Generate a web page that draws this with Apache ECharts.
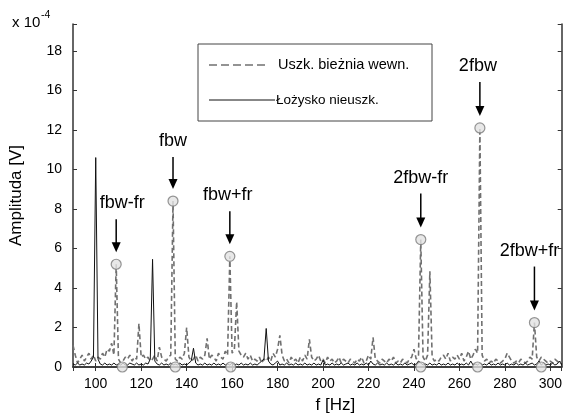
<!DOCTYPE html>
<html>
<head>
<meta charset="utf-8">
<script src="https://cdn.jsdelivr.net/npm/echarts@6/dist/echarts.min.js"></script>
<style>
  html, body { margin: 0; padding: 0; background: #fff; }
  #main { width: 565px; height: 419px; }
</style>
</head>
<body>
<div id="main"></div>
<script>
// spectrum sampled every 1 Hz starting at 90 Hz
const fStart = 90;
const fStep = 1;

// Uszk. bieznia wewn. (damaged inner race), x 10^-4 V
const damaged = [
  1.1, 0.6, 0.2, 0.4, 0.6, 0.3, 0.5, 0.7, 0.4, 0.6,
  0.3, 0.5, 0.4, 0.7, 0.5, 0.9, 0.8, 1.2, 0.6, 5.2,
  0.4, 0.2, 0.3, 0.5, 0.4, 0.6, 0.3, 0.5, 0.4, 2.2,
  0.5, 0.6, 0.4, 0.5, 0.3, 0.4, 0.6, 0.3, 1.0, 0.5,
  0.4, 0.3, 0.5, 0.6, 8.4, 0.4, 0.3, 0.5, 0.4, 0.7,
  2.0, 0.5, 0.3, 0.4, 0.6, 0.3, 0.5, 0.4, 0.6, 1.45,
  0.4, 0.6, 0.5, 0.3, 0.7, 0.5, 0.4, 0.8, 0.6, 5.6,
  0.7, 0.9, 3.3, 0.8, 0.6, 0.5, 0.7, 0.4, 0.6, 0.3,
  0.4, 0.3, 0.5, 0.2, 0.4, 0.3, 0.5, 0.3, 0.7, 0.5,
  0.9, 1.6, 0.6, 0.3, 0.4, 0.2, 0.5, 0.3, 0.4, 0.2,
  0.5, 0.3, 0.6, 0.4, 1.4, 0.5, 0.3, 0.4, 0.6, 0.3,
  0.4, 0.2, 0.5, 0.3, 0.4, 0.2, 0.3, 0.5, 0.2, 0.4,
  0.3, 0.2, 0.4, 0.3, 0.2, 0.4, 0.3, 0.5, 0.2, 0.3,
  0.6, 0.4, 1.5, 0.4, 0.3, 0.2, 0.4, 0.3, 0.2, 0.4,
  0.3, 0.5, 0.2, 0.3, 0.2, 0.4, 0.3, 0.2, 0.4, 0.5,
  0.9, 0.4, 0.6, 6.45, 0.5, 0.3, 0.6, 4.85, 0.5, 0.3,
  0.4, 0.3, 0.5, 0.6, 0.4, 0.7, 0.3, 0.5, 0.4, 0.6,
  0.4, 0.7, 0.3, 0.5, 0.8, 0.4, 0.6, 0.9, 0.7, 12.1,
  0.6, 0.3, 0.4, 0.2, 0.3, 0.2, 0.4, 0.3, 0.2, 0.3,
  0.4, 0.7, 0.5, 0.3, 0.2, 0.3, 0.2, 0.4, 0.3, 0.2,
  0.3, 0.5, 0.4, 2.25, 0.5, 0.3, 0.5, 0.4, 0.3, 0.2,
  0.3, 0.2, 0.4, 0.3, 0.2, 0.3
];

// Lozysko nieuszk. (healthy bearing), x 10^-4 V
const healthy = [
  0.15, 0.1, 0.2, 0.1, 0.15, 0.1, 0.2, 0.15, 0.3, 0.5,
  10.6, 0.4, 0.15, 0.1, 0.2, 0.1, 0.15, 0.1, 0.2, 0.1,
  0.15, 0.1, 0.2, 0.1, 0.1, 0.2, 0.15, 0.1, 0.2, 0.1,
  0.15, 0.1, 0.2, 0.15, 0.4, 5.45, 0.3, 0.15, 0.1, 0.2,
  0.1, 0.15, 0.1, 0.2, 0.1, 0.15, 0.1, 0.2, 0.1, 0.15,
  0.1, 0.2, 0.3, 0.95, 0.2, 0.1, 0.15, 0.1, 0.2, 0.1,
  0.15, 0.1, 0.2, 0.1, 0.15, 0.1, 0.2, 0.1, 0.15, 0.1,
  0.2, 0.1, 0.15, 0.1, 0.2, 0.1, 0.15, 0.1, 0.2, 0.1,
  0.15, 0.1, 0.2, 0.3, 0.4, 1.95, 0.3, 0.15, 0.1, 0.2,
  0.3, 0.1, 0.15, 0.1, 0.2, 0.1, 0.15, 0.1, 0.2, 0.1,
  0.15, 0.1, 0.2, 0.1, 0.15, 0.1, 0.2, 0.1, 0.15, 0.1,
  0.35, 0.1, 0.15, 0.1, 0.2, 0.1, 0.15, 0.1, 0.2, 0.1,
  0.15, 0.2, 0.1, 0.15, 0.1, 0.2, 0.1, 0.15, 0.1, 0.2,
  0.1, 0.3, 0.15, 0.1, 0.2, 0.1, 0.15, 0.1, 0.2, 0.1,
  0.15, 0.1, 0.2, 0.1, 0.15, 0.1, 0.2, 0.1, 0.15, 0.2,
  0.1, 0.15, 0.3, 0.2, 0.1, 0.15, 0.1, 0.2, 0.1, 0.15,
  0.1, 0.2, 0.1, 0.15, 0.1, 0.2, 0.1, 0.15, 0.1, 0.2,
  0.1, 0.15, 0.1, 0.2, 0.1, 0.3, 0.1, 0.15, 0.1, 0.2,
  0.1, 0.15, 0.1, 0.2, 0.1, 0.15, 0.1, 0.2, 0.1, 0.15,
  0.1, 0.2, 0.1, 0.15, 0.1, 0.2, 0.1, 0.15, 0.1, 0.2,
  0.1, 0.15, 0.2, 0.1, 0.15, 0.3, 0.1, 0.2, 0.1, 0.15,
  0.1, 0.2, 0.1, 0.15, 0.3, 0.1
];

// marked harmonics on the damaged spectrum
const annNames = ['fbw-fr', 'fbw', 'fbw+fr', '2fbw-fr', '2fbw', '2fbw+fr'];
const annFreq  = [109, 134, 159, 243, 269, 293];
const annAmp   = [5.2, 8.4, 5.6, 6.45, 12.1, 2.25];
// circles on the zero line (healthy spectrum at same lines)
const baseFreq = [111.7, 135, 159.4, 243, 268, 296];
const baseAmp  = [0, 0, 0, 0, 0, 0];

// y tick texts as printed on the original figure
const yTickText = { 0: '0', 2: '2', 4: '4', 6: '6', 8: '8', 10: '10', 12: '12', 14: '16', 16: '18' };

const FONT = '"Liberation Sans", Arial, sans-serif';

const toPairs = (arr) => arr.map((v, i) => [fStart + i * fStep, v]);

const chart = echarts.init(document.getElementById('main'));

const axisLine = { show: true, lineStyle: { color: '#333', width: 1.5 } };
const axisTick = { show: true, inside: true, length: 4, lineStyle: { color: '#333', width: 1 } };

chart.setOption({
  animation: false,
  backgroundColor: '#fff',
  grid: { left: 72, right: 1, top: 24, bottom: 50 },
  xAxis: [
    {
      type: 'value', min: 90, max: 305, splitNumber: 10,
      axisLine, axisTick, splitLine: { show: false },
      axisLabel: {
        color: '#000', fontFamily: FONT, fontSize: 14, margin: 10,
        formatter: (v) => (v % 20 === 0 ? String(v) : '')
      },
      name: 'f [Hz]', nameLocation: 'middle', nameGap: 30,
      nameTextStyle: { color: '#000', fontFamily: FONT, fontSize: 17, padding: [0, 0, 0, 36] }
    },
    {
      type: 'value', position: 'top', min: 90, max: 305, splitNumber: 10,
      axisLine, axisTick, splitLine: { show: false }, axisLabel: { show: false }
    }
  ],
  yAxis: [
    {
      type: 'value', min: 0, max: 17.36, splitNumber: 9,
      axisLine, axisTick, splitLine: { show: false },
      axisLabel: {
        color: '#000', fontFamily: FONT, fontSize: 14, margin: 11,
        formatter: (v) => yTickText[v] || ''
      },
      name: 'Amplituda [V]', nameLocation: 'middle', nameGap: 48,
      nameTextStyle: { color: '#000', fontFamily: FONT, fontSize: 17 }
    },
    {
      type: 'value', position: 'right', min: 0, max: 17.36, splitNumber: 9,
      axisLine, axisTick, splitLine: { show: false }, axisLabel: { show: false }
    }
  ],
  series: [
    {
      name: 'Uszk. bieżnia wewn.',
      type: 'line',
      data: toPairs(damaged),
      showSymbol: false,
      lineStyle: { color: '#707070', width: 1.6, type: [5, 3] },
      z: 2
    },
    {
      name: 'Łożysko nieuszk.',
      type: 'line',
      data: toPairs(healthy),
      showSymbol: false,
      lineStyle: { color: '#111', width: 1 },
      z: 3
    },
    {
      type: 'scatter',
      data: annFreq.map((f, i) => [f, annAmp[i]]).concat(baseFreq.map((f, i) => [f, baseAmp[i]])),
      symbol: 'circle',
      symbolSize: 10,
      itemStyle: { color: '#e2e2e2', borderColor: '#7a7a7a', borderWidth: 1.2 },
      z: 4
    }
  ]
});

// annotation arrows + texts, placed from the data through the chart scales
const arrowLen = [33, 32, 33, 34, 34, 44];
const labelDx = [6, 0, -2, 0, -2, -5];
const g = [];
annNames.forEach((name, i) => {
  const p = chart.convertToPixel({ gridIndex: 0 }, [annFreq[i], annAmp[i]]);
  const tip = p[1] - 12;
  const start = tip - arrowLen[i];
  g.push({
    type: 'line', shape: { x1: p[0], y1: start, x2: p[0], y2: tip - 6 },
    style: { stroke: '#000', lineWidth: 1.5 }
  });
  g.push({
    type: 'polygon', shape: { points: [[p[0] - 4.5, tip - 10], [p[0] + 4.5, tip - 10], [p[0], tip]] },
    style: { fill: '#000' }
  });
  g.push({
    type: 'text', x: p[0] + labelDx[i], y: start - 16,
    style: { text: name, fill: '#000', font: '18px ' + FONT, align: 'center', verticalAlign: 'middle' }
  });
});

// legend box
g.push({ type: 'rect', shape: { x: 198, y: 44, width: 234, height: 77 }, style: { fill: '#fff', stroke: '#444', lineWidth: 1 }, z: 10 });
g.push({ type: 'line', shape: { x1: 209, y1: 65, x2: 269, y2: 65 }, style: { stroke: '#707070', lineWidth: 1.6, lineDash: [8, 4] }, z: 11 });
g.push({ type: 'text', x: 278, y: 65, style: { text: 'Uszk. bieżnia wewn.', fill: '#000', font: '14.5px ' + FONT, verticalAlign: 'middle' }, z: 11 });
g.push({ type: 'line', shape: { x1: 209, y1: 100, x2: 275, y2: 100 }, style: { stroke: '#111', lineWidth: 1 }, z: 11 });
g.push({ type: 'text', x: 276, y: 100, style: { text: 'Łożysko nieuszk.', fill: '#000', font: '13.5px ' + FONT, verticalAlign: 'middle' }, z: 11 });

// exponent mark
g.push({ type: 'text', x: 12, y: 23, style: { text: 'x 10', fill: '#000', font: '15px ' + FONT, verticalAlign: 'middle' } });
g.push({ type: 'text', x: 41, y: 15, style: { text: '-4', fill: '#000', font: '10.5px ' + FONT, verticalAlign: 'middle' } });

chart.setOption({ graphic: g });
</script>
</body>
</html>
